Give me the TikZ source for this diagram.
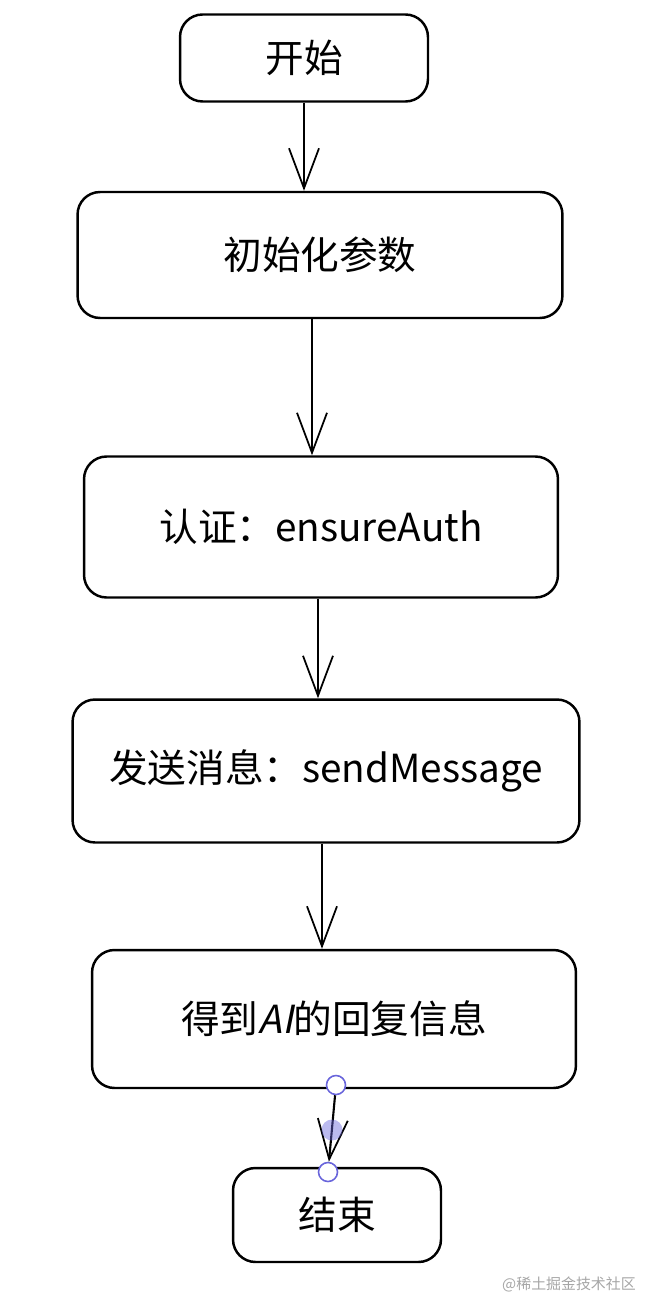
\documentclass[tikz,border=0pt]{standalone}
\usepackage{fontspec}
\setmainfont{Noto Sans CJK SC}
\newfontfamily\slantfont[FakeSlant=0.2]{Noto Sans CJK SC}
\usetikzlibrary{arrows.meta}
\usetikzlibrary{positioning}
\definecolor{handle}{HTML}{6965DB}
\tikzset{
	stepbox/.style={draw, line width=1.4pt, rounded corners=0.45cm, align=center, font=\fontsize{22}{26}\selectfont},
	flow/.style={-{Straight Barb[length=0.8cm, width=0.6cm, line width=1pt]}, line width=1.2pt},
	knob/.style={circle, draw=handle, line width=0.9pt, fill=white, inner sep=0pt, minimum size=0.38cm}
}
\begin{document}
\begin{tikzpicture}[x=0.02cm, y=-0.02cm]
	\useasboundingbox (0,0) rectangle (658,1314);
	%nodes
	\node[stepbox, minimum width=4.96cm, minimum height=1.74cm] (start) at (304,58) {开始};
	\node[stepbox, minimum width=9.7cm, minimum height=2.52cm] (init) at (320,255) {初始化参数};
	\node[stepbox, minimum width=9.48cm, minimum height=2.82cm] (auth) at (321,527) {认证：ensureAuth};
	\node[stepbox, minimum width=10.14cm, minimum height=2.86cm] (send) at (326,771) {发送消息：sendMessage};
	\node[stepbox, minimum width=9.68cm, minimum height=2.76cm] (reply) at (334,1019) {得到{\slantfont AI}的回复信息};
	\node[stepbox, minimum width=4.16cm, minimum height=1.88cm] (stop) at (337,1215) {结束};
	
	%arrows
	\draw[flow] (start.south) -- (start.south |- init.north);
	\draw[flow] ([xshift=-0.16cm]init.south) -- ([xshift=-0.16cm]init.south |- auth.north);
	\draw[flow] ([xshift=-0.06cm]auth.south) -- ([xshift=-0.06cm]auth.south |- send.north);
	\draw[flow] ([xshift=-0.08cm]send.south) -- ([xshift=-0.08cm]send.south |- reply.north);
	
	%selection handles
	\node[knob] (hA) at (336,1085) {};
	\node[knob] (hB) at (328,1172) {};
	\draw[flow] (hA) -- (hB);
	\node[knob, draw=none, fill=handle, fill opacity=0.45, minimum size=0.42cm] (hM) at (332,1130) {};
	
	\node[text=gray!70, font=\fontsize{8.5}{10}\selectfont, anchor=east] (mark) at (642,1284) {@稀土掘金技术社区};
\end{tikzpicture}
\end{document}
